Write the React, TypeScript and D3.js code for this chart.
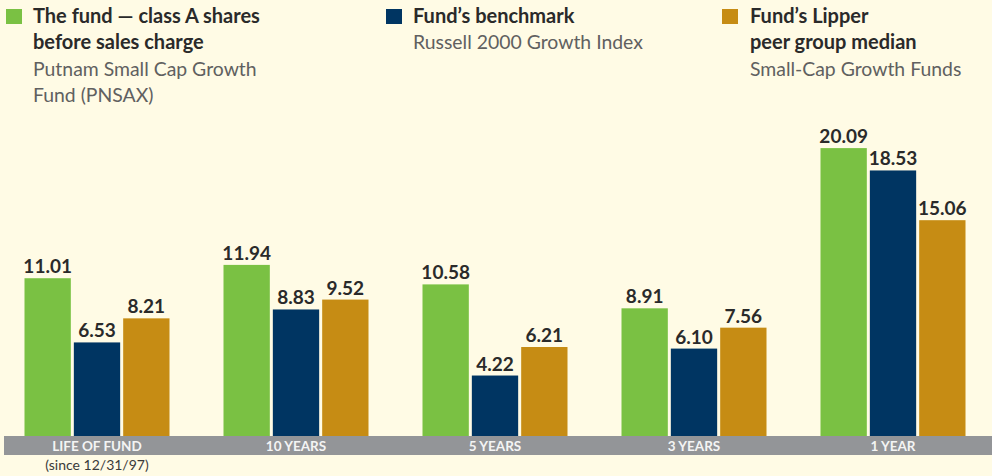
import React from "react";
import * as d3 from "d3";

const categories = ["LIFE OF FUND", "10 YEARS", "5 YEARS", "3 YEARS", "1 YEAR"];
const seriesKeys = ["fund", "benchmark", "peer"];
const fundValues = [11.01, 11.94, 10.58, 8.91, 20.09];
const benchmarkValues = [6.53, 8.83, 4.22, 6.1, 18.53];
const peerValues = [8.21, 9.52, 6.21, 7.56, 15.06];
const seriesColors = ["#7AC143", "#003562", "#C68C14"];

const legendItems = [
  { x: 6, textX: 33, bold: ["The fund \u2014 class A shares", "before sales charge"], regular: ["Putnam Small Cap Growth", "Fund (PNSAX)"] },
  { x: 386, textX: 413, bold: ["Fund\u2019s benchmark"], regular: ["Russell 2000 Growth Index"] },
  { x: 722, textX: 750, bold: ["Fund\u2019s Lipper", "peer group median"], regular: ["Small-Cap Growth Funds"] },
];

const W = 992;
const H = 476;
const baseY = 436;
const FONT = "Lato, 'Noto Sans', sans-serif";

export default function App() {
  const values = [fundValues, benchmarkValues, peerValues];
  const x0 = d3.scaleBand<string>().domain(categories).range([-2.5, 992.5]).padding(0);
  const x1 = d3.scaleBand<string>().domain(seriesKeys).range([-72.5, 72.5]).paddingInner(3 / 49).paddingOuter(0);
  const y = d3.scaleLinear().domain([0, 20.09]).range([baseY, baseY - 20.09 * 14.33]);
  const center = (c: string) => (x0(c) as number) + x0.bandwidth() / 2;

  return (
    <svg width={W} height={H} style={{ position: "absolute", left: 0, top: 0, display: "block" }} fontFamily={FONT}>
      <rect x={0} y={0} width={W} height={H} fill="#FFFBE5" />
      {legendItems.map((item, i) => {
        let lines: { t: string; b: boolean }[] = [
          ...item.bold.map((t) => ({ t, b: true })),
          ...item.regular.map((t) => ({ t, b: false })),
        ];
        return (
          <g key={i}>
            <rect x={item.x} y={9} width={16} height={15} fill={seriesColors[i]} />
            {lines.map((l, j) => (
              <text
                key={j}
                x={item.textX}
                y={22.5 + j * 26.5}
                fontSize={l.b ? 20 : 19.4}
                fontWeight={l.b ? 700 : 400}
                fill={l.b ? "#2a2a2a" : "#606060"}
              >
                {l.t}
              </text>
            ))}
          </g>
        );
      })}
      {categories.map((c, ci) => (
        <g key={c}>
          {seriesKeys.map((k, si) => {
            const v = values[si][ci];
            const bx = center(c) + (x1(k) as number);
            return (
              <g key={k}>
                <rect x={bx} y={y(v)} width={x1.bandwidth()} height={baseY - y(v)} fill={seriesColors[si]} />
                <text
                  x={bx + x1.bandwidth() / 2}
                  y={y(v) - 5}
                  textAnchor="middle"
                  fontSize={19}
                  fontWeight={700}
                  fill="#2a2a2a"
                >
                  {v.toFixed(2)}
                </text>
              </g>
            );
          })}
        </g>
      ))}
      <rect x={4} y={baseY} width={W - 4} height={19} fill="#939598" />
      {categories.map((c) => (
        <text key={c} x={center(c)} y={450.5} textAnchor="middle" fontSize={13.5} fontWeight={700} fill="#F4F4F4">
          {c}
        </text>
      ))}
      <text x={center(categories[0])} y={470} textAnchor="middle" fontSize={14} fill="#3a3a3a">
        (since 12/31/97)
      </text>
    </svg>
  );
}
